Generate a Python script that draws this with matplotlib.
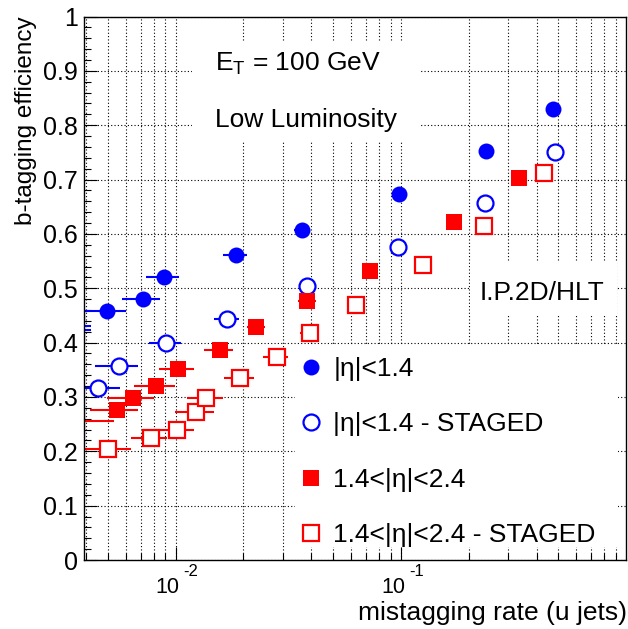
import matplotlib
matplotlib.use("Agg")
import numpy as np
import matplotlib.pyplot as plt
from matplotlib.ticker import FixedLocator, MultipleLocator, NullFormatter, FixedFormatter
from matplotlib.patches import Rectangle
from matplotlib.transforms import blended_transform_factory, offset_copy

plt.rcParams['font.family'] = ['Liberation Sans', 'DejaVu Sans']
plt.rcParams['mathtext.fontset'] = 'custom'
plt.rcParams['mathtext.rm'] = 'Liberation Sans'
plt.rcParams['mathtext.it'] = 'Liberation Sans'

# |eta| < 1.4
barrel_x = [0.00494, 0.00714, 0.00887, 0.01845, 0.03643, 0.0977, 0.2383, 0.4723]
barrel_y = [0.458, 0.480, 0.521, 0.561, 0.607, 0.673, 0.753, 0.829]
barrel_xerr = [0.0011, 0.00135, 0.0015, 0.0022, 0.003, 0.005, 0.008, 0.011]

# |eta| < 1.4 - STAGED
barrel_st_x = [0.00454, 0.0056, 0.00908, 0.01695, 0.03836, 0.0967, 0.2359, 0.4835]
barrel_st_y = [0.317, 0.357, 0.400, 0.443, 0.505, 0.575, 0.657, 0.751]
barrel_st_xerr = [0.0011, 0.0012, 0.0015, 0.0021, 0.003, 0.005, 0.0078, 0.011]

# 1.4 < |eta| < 2.4
endcap_x = [0.00548, 0.00648, 0.00821, 0.01021, 0.01572, 0.02279, 0.03836, 0.07267, 0.1713, 0.3359]
endcap_y = [0.276, 0.2975, 0.320, 0.351, 0.386, 0.429, 0.4766, 0.532, 0.622, 0.703]
endcap_xerr = [0.0013, 0.0015, 0.0017, 0.0018, 0.0023, 0.0021, 0.0035, 0.005, 0.009, 0.014]

# 1.4 < |eta| < 2.4 - STAGED
endcap_st_x = [0.00502, 0.00775, 0.0101, 0.01235, 0.01368, 0.01928, 0.02804, 0.03939,
               0.06342, 0.1248, 0.2326, 0.4335]
endcap_st_y = [0.204, 0.224, 0.240, 0.273, 0.2975, 0.335, 0.373, 0.417,
               0.469, 0.543, 0.615, 0.7115]
endcap_st_xerr = [0.0013, 0.0014, 0.002, 0.0024, 0.0025, 0.0029, 0.0035, 0.0038,
                  0.005, 0.009, 0.013, 0.02]

# working points below the plotted mistag range (only their error bars reach the frame)
barrel_low_x = [0.0036, 0.0033]
barrel_low_y = [0.431, 0.423]
barrel_low_xerr = [0.0006, 0.0009]
barrel_low_yerr = [0.03, 0.03]
barrel_st_low_x = [0.0036, 0.0034, 0.0032]
barrel_st_low_y = [0.29, 0.255, 0.225]
barrel_st_low_xerr = [0.0002, 0.0002, 0.0002]
barrel_st_low_yerr = [0.035, 0.03, 0.025]
endcap_low_x = [0.0037]
endcap_low_y = [0.256]
endcap_low_xerr = [0.0016]
endcap_low_yerr = [0.027]

x_major = [0.01, 0.1]
x_major_labels = [("10", "-2"), ("10", "-1")]
y_ticks = [0.0, 0.1, 0.2, 0.3, 0.4, 0.5, 0.6, 0.7, 0.8, 0.9, 1.0]
y_tick_labels = ["0", "0.1", "0.2", "0.3", "0.4", "0.5", "0.6", "0.7", "0.8", "0.9", "1"]

XMIN, XMAX = 0.0039, 1.0
BLUE = (0, 0, 1)
RED = (1, 0, 0)

W, H = 628, 629
fig = plt.figure(figsize=(W / 100, H / 100), dpi=100)
ax = fig.add_axes([83.5 / W, 1 - 560 / H, (626.2 - 83.5) / W, (560 - 16.5) / H])
ax.set_xscale('log')
ax.set_xlim(XMIN, XMAX)
ax.set_ylim(0, 1)

# ticks
ax.xaxis.set_major_locator(FixedLocator(x_major))
minors = [m * 10.0 ** e for e in (-3, -2, -1) for m in range(2, 10)]
ax.xaxis.set_minor_locator(FixedLocator(minors))
ax.xaxis.set_major_formatter(NullFormatter())
ax.xaxis.set_minor_formatter(NullFormatter())
ax.yaxis.set_major_locator(FixedLocator(y_ticks))
ax.yaxis.set_major_formatter(FixedFormatter(y_tick_labels))
ax.yaxis.set_minor_locator(MultipleLocator(0.02))
ax.tick_params(which='both', direction='in', top=False, right=False, width=0.8, color='k')
ax.tick_params(which='major', length=9.4)
ax.tick_params(which='minor', length=5)
ax.tick_params(axis='y', labelsize=18, pad=3.8)
for s in ax.spines.values():
    s.set_linewidth(1.0)
    s.set_zorder(6)

# dotted grid
grid_style = dict(color='k', linestyle=(0, (1, 2)), linewidth=0.8)
ax.set_axisbelow(True)
ax.xaxis.grid(True, which='both', **grid_style)
ax.yaxis.grid(True, which='major', **grid_style)

# log decade labels drawn as base + exponent
base_tr = blended_transform_factory(ax.transData, ax.transAxes)
for xv, (b, e) in zip(x_major, x_major_labels):
    ax.text(xv, 0, b, transform=offset_copy(base_tr, fig=fig, x=4, y=-33, units='dots'),
            ha='right', va='baseline', fontsize=15.5)
    ax.text(xv, 0, e, transform=offset_copy(base_tr, fig=fig, x=8, y=-16, units='dots'),
            ha='left', va='baseline', fontsize=12)

# axis titles
fig.text(627 / W, 1 - 620 / H, "mistagging rate (u jets)", ha='right', va='baseline', fontsize=19)
fig.text(26 / W, 1 - 16.5 / H, "b-tagging efficiency", rotation=90, ha='center', va='top',
         fontsize=17.5)

# white panels behind the annotations
def panel(x0, y0, x1, y1):
    ax.add_patch(Rectangle((x0, y0), x1 - x0, y1 - y0, transform=ax.transAxes,
                           facecolor='white', edgecolor='none', zorder=1.5))

panel(0.200, 0.769, 0.622, 0.955)
panel(0.712, 0.451, 0.983, 0.548)
panel(0.3897, 0.024, 0.985, 0.394)

ax.text(0.2423, 0.8997, r"E$_{\mathrm{T}}$ = 100 GeV", transform=ax.transAxes, fontsize=19,
        ha='left', va='baseline', zorder=2)
ax.text(0.2423, 0.7967, "Low Luminosity", transform=ax.transAxes, fontsize=19,
        ha='left', va='baseline', zorder=2)
ax.text(0.7306, 0.4784, "I.P.2D/HLT", transform=ax.transAxes, fontsize=19,
        ha='left', va='baseline', zorder=2)


def series(x, y, xerr, color, marker, filled, label):
    ax.errorbar(x, y, xerr=xerr, fmt='none', ecolor=color, elinewidth=1.5, capsize=0, zorder=3)
    h, = ax.plot(x, y, ls='none', marker=marker, ms=11.5,
                 mfc=color if filled else 'white', mec=color,
                 mew=0 if filled else 1.6, label=label, zorder=4)
    return h


def below_range(x, y, xerr, yerr, color):
    x = np.asarray(x); y = np.asarray(y); xerr = np.asarray(xerr); yerr = np.asarray(yerr)
    ax.hlines(y, x - xerr, x + xerr, colors=[color], linewidth=1.5, zorder=3)
    xc = np.maximum(x, XMIN * 1.004)
    ax.vlines(xc, y - yerr, y + yerr, colors=[color], linewidth=1.5, zorder=3)


below_range(barrel_low_x, barrel_low_y, barrel_low_xerr, barrel_low_yerr, BLUE)
below_range(barrel_st_low_x, barrel_st_low_y, barrel_st_low_xerr, barrel_st_low_yerr, BLUE)
below_range(endcap_low_x, endcap_low_y, endcap_low_xerr, endcap_low_yerr, RED)

h1 = series(barrel_x, barrel_y, barrel_xerr, BLUE, 'o', True, r"|η|<1.4")
h2 = series(barrel_st_x, barrel_st_y, barrel_st_xerr, BLUE, 'o', False, r"|η|<1.4 - STAGED")
h3 = series(endcap_x, endcap_y, endcap_xerr, RED, 's', True, r"1.4<|η|<2.4")
h4 = series(endcap_st_x, endcap_st_y, endcap_st_xerr, RED, 's', False, r"1.4<|η|<2.4 - STAGED")

leg = ax.legend(handles=[h1, h2, h3, h4], loc='upper left',
                bbox_to_anchor=((300.2 - 83.5) / 542.7, (560 - 357) / 543.5),
                frameon=False, fontsize=19, handlelength=0.8, handletextpad=0.45,
                labelspacing=1.19, borderpad=0, borderaxespad=0, numpoints=1)
leg.set_zorder(5)

fig.savefig("out.png", dpi=100)
